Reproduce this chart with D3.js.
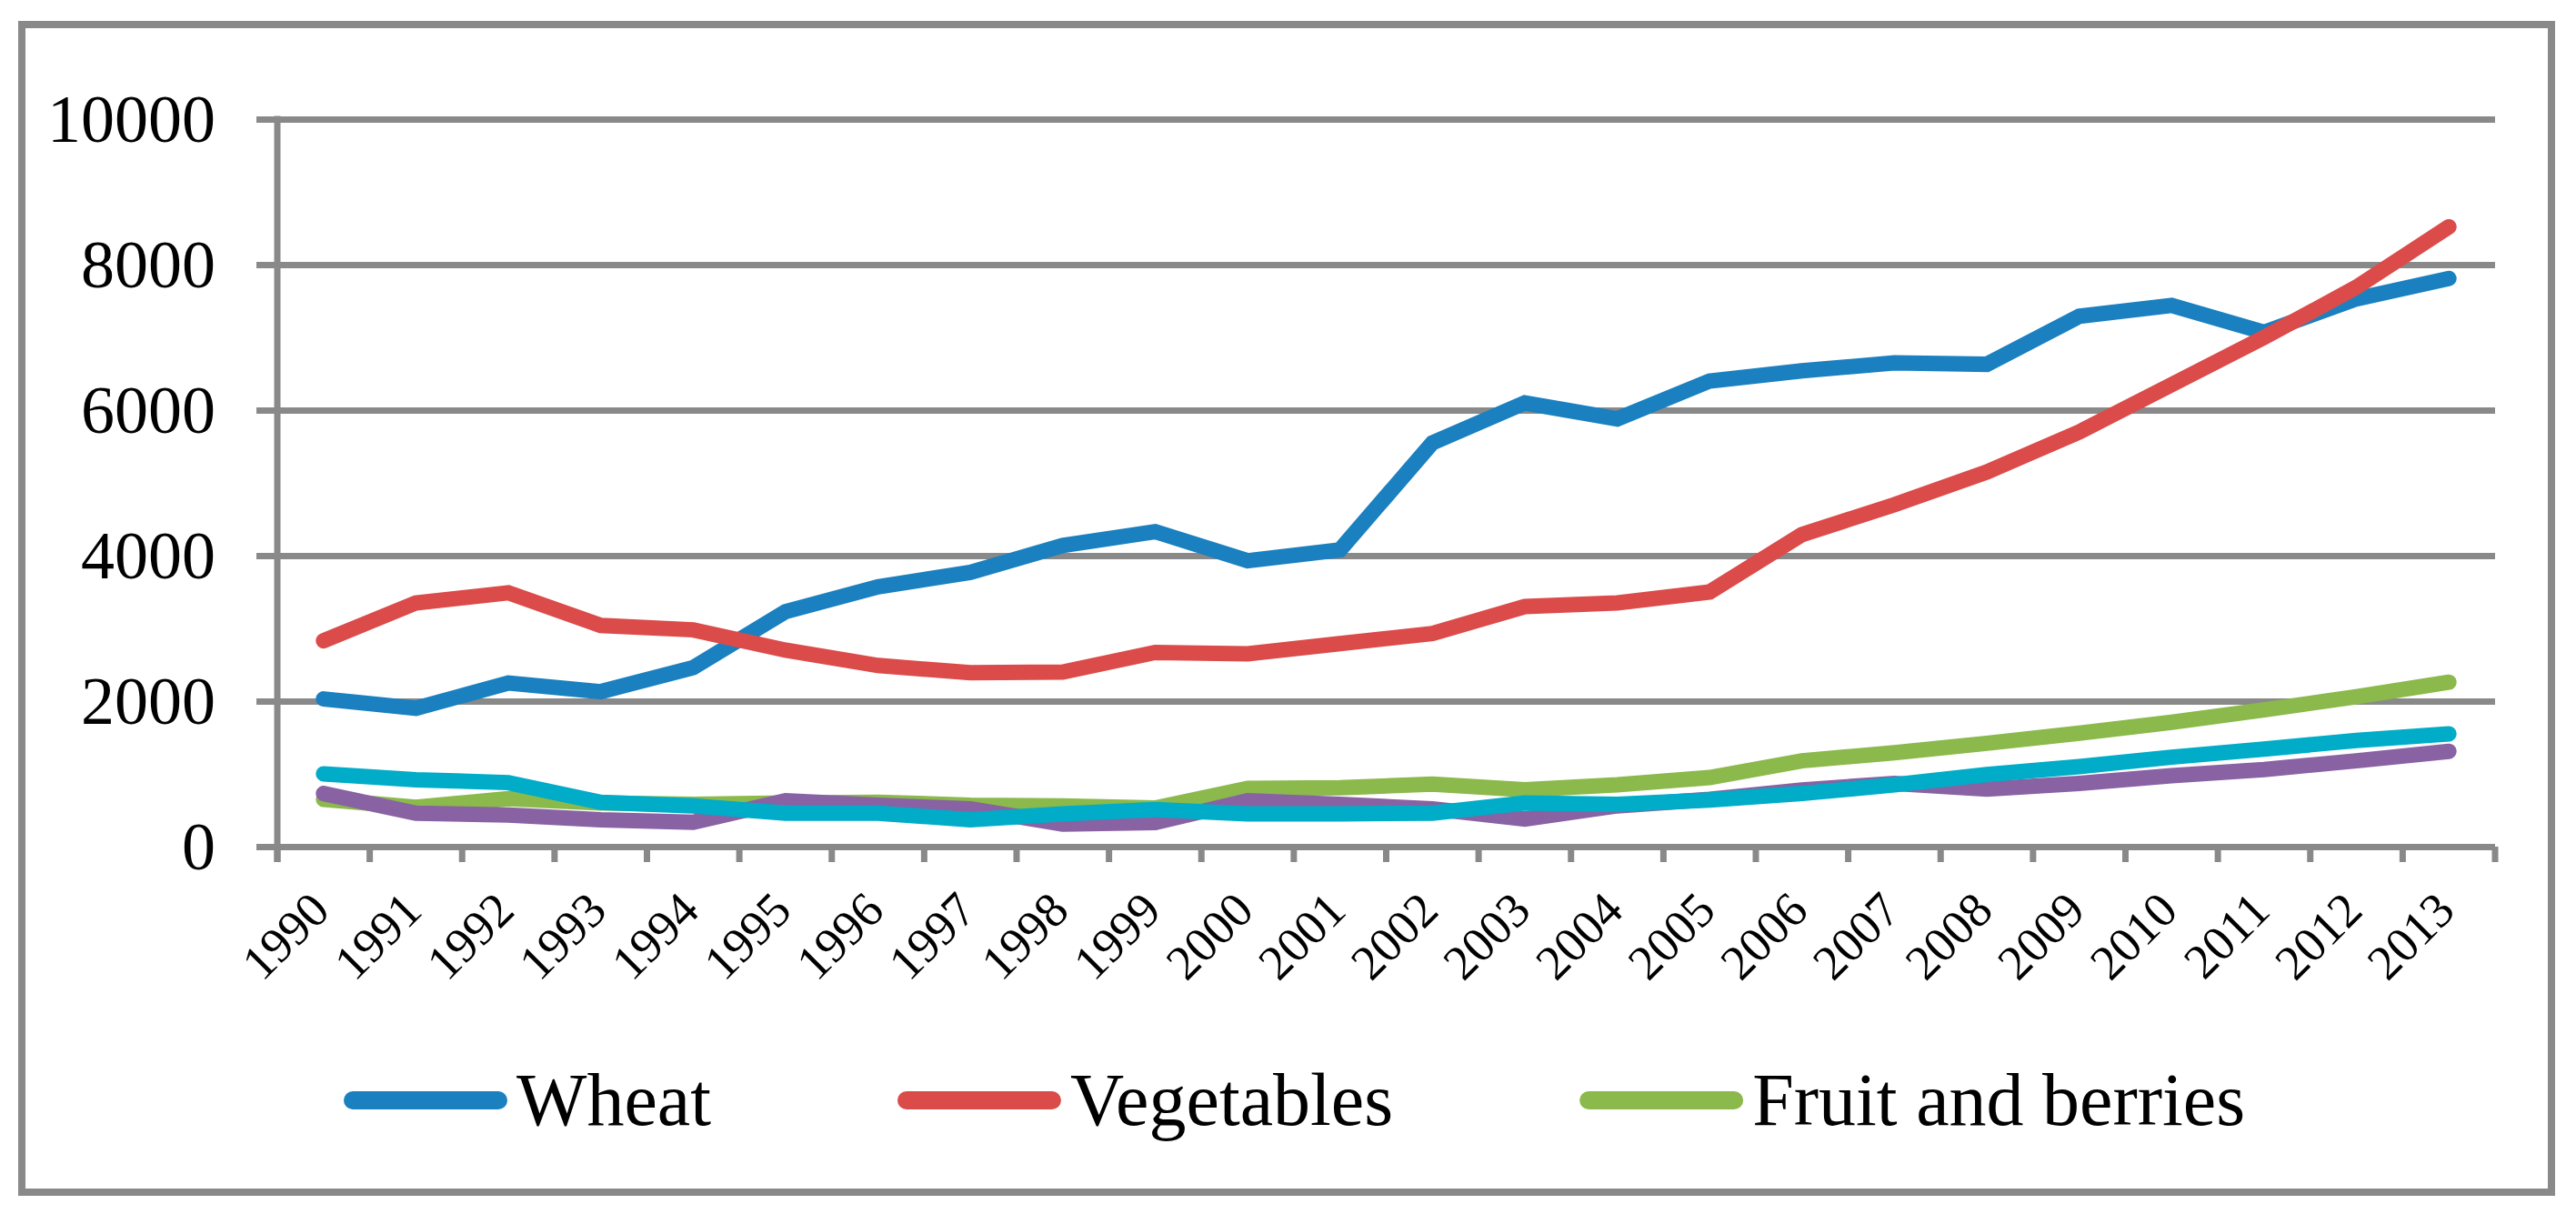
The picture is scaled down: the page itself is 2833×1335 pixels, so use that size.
<!DOCTYPE html>
<html>
<head>
<meta charset="utf-8">
<script src="https://cdn.jsdelivr.net/npm/d3@7"></script>
<style>
  body { margin: 0; background: #fff; }
  text { font-family: "Liberation Serif", "Times New Roman", serif; fill: #000; }
</style>
</head>
<body>
<div id="chart"></div>
<script>
// data
const years = ['1990','1991','1992','1993','1994','1995','1996','1997','1998','1999','2000','2001',
               '2002','2003','2004','2005','2006','2007','2008','2009','2010','2011','2012','2013']
const wheat = [2030,1900,2250,2130,2460,3230,3570,3770,4140,4330,3930,4080,
               5550,6100,5880,6400,6540,6650,6630,7290,7440,7070,7530,7810]
const vegetables = [2830,3350,3490,3040,2980,2700,2490,2390,2400,2670,2650,2790,
                    2930,3300,3350,3500,4290,4700,5150,5700,6350,7000,7690,8520]
const fruitBerries = [650,540,660,600,580,600,610,570,560,530,800,810,
                      860,780,850,950,1180,1290,1420,1560,1710,1880,2060,2260]
// the last two series have no visible legend entry in the picture
const series4 = [730,460,435,370,335,630,570,520,310,330,630,580,
                 520,380,560,650,780,870,790,870,975,1060,1180,1310]
const series5 = [1000,920,880,610,560,460,460,370,450,510,450,450,
                 460,600,580,640,730,850,990,1100,1230,1340,1460,1550]
const yTicks = [0,2000,4000,6000,8000,10000]

const seriesNames = ['Wheat','Vegetables','Fruit and berries','Series 4','Series 5']
const seriesColors = ['#1a80c0','#db4b4a','#8bb94b','#8862a3','#00acc7']
const seriesValues = [wheat, vegetables, fruitBerries, series4, series5]
const legendCount = 3  // only three entries show in the reference legend

const W = 2833, H = 1335
const GRAY = '#898989'
const plot = {left: 305, right: 2744, top: 131, bottom: 931}

let svg = d3.select('#chart').append('svg')
  .attr('width', W)
  .attr('height', H)

svg.append('rect').attr('width', W).attr('height', H).attr('fill', '#fff')

// outer frame
svg.append('rect')
  .attr('x', 24).attr('y', 27)
  .attr('width', 2782).attr('height', 1284)
  .attr('fill', 'none')
  .attr('stroke', GRAY)
  .attr('stroke-width', 8)

let x = d3.scaleBand().domain(years).range([plot.left, plot.right]).padding(0)
let y = d3.scaleLinear().domain([0, 10000]).range([plot.bottom, plot.top])
const bw = x.bandwidth()

// y axis with gridlines
let yAxis = svg.append('g')
  .attr('transform', 'translate(' + plot.left + ',0)')
  .call(d3.axisLeft(y).tickValues(yTicks).tickSize(-(plot.right - plot.left)).tickFormat(d3.format('d')))
yAxis.select('.domain').remove()
yAxis.selectAll('.tick line')
  .attr('x1', -23)
  .attr('stroke', GRAY)
  .attr('stroke-width', 7)
yAxis.selectAll('.tick text')
  .attr('x', -68)
  .attr('dy', '0.33em')
  .attr('font-size', 74)
  .attr('fill', '#000')
  .style('font-family', '"Liberation Serif", "Times New Roman", serif')

// vertical axis line
svg.append('line')
  .attr('x1', plot.left).attr('x2', plot.left)
  .attr('y1', plot.top - 3.5).attr('y2', plot.bottom + 17)
  .attr('stroke', GRAY).attr('stroke-width', 7)

// x tick marks on the category boundaries
let bounds = years.map(d => x(d)).concat([plot.right])
svg.append('g').selectAll('line')
  .data(bounds)
  .enter().append('line')
  .attr('x1', d => d).attr('x2', d => d)
  .attr('y1', plot.bottom).attr('y2', plot.bottom + 17)
  .attr('stroke', GRAY).attr('stroke-width', 7)

// x labels, rotated
let xAxis = svg.append('g')
  .attr('transform', 'translate(0,' + plot.bottom + ')')
  .call(d3.axisBottom(x).tickSize(0))
xAxis.select('.domain').remove()
xAxis.selectAll('.tick text')
  .attr('font-size', 54)
  .attr('fill', '#000')
  .attr('y', 0).attr('dy', 0)
  .attr('text-anchor', 'end')
  .attr('transform', 'translate(9,73) rotate(-45)')
  .style('font-family', '"Liberation Serif", "Times New Roman", serif')

// series lines
let line = d3.line()
  .x((d, i) => x(years[i]) + bw / 2)
  .y(d => y(d))

svg.append('g').selectAll('path')
  .data(seriesValues)
  .enter().append('path')
  .attr('d', d => line(d))
  .attr('fill', 'none')
  .attr('stroke', (d, i) => seriesColors[i])
  .attr('stroke-width', 17)
  .attr('stroke-linecap', 'round')
  .attr('stroke-linejoin', 'miter')

// legend
let legend = svg.append('g')
let lx = 378
const legY = 1210
for (let i = 0; i < legendCount; i++) {
  legend.append('line')
    .attr('x1', lx + 10).attr('x2', lx + 180 - 10)
    .attr('y1', legY).attr('y2', legY)
    .attr('stroke', seriesColors[i])
    .attr('stroke-width', 20)
    .attr('stroke-linecap', 'round')
  let t = legend.append('text')
    .attr('x', lx + 190)
    .attr('y', legY + 27)
    .attr('font-size', 82)
    .text(seriesNames[i])
  lx = lx + 190 + t.node().getComputedTextLength() + 205
}
</script>
</body>
</html>
